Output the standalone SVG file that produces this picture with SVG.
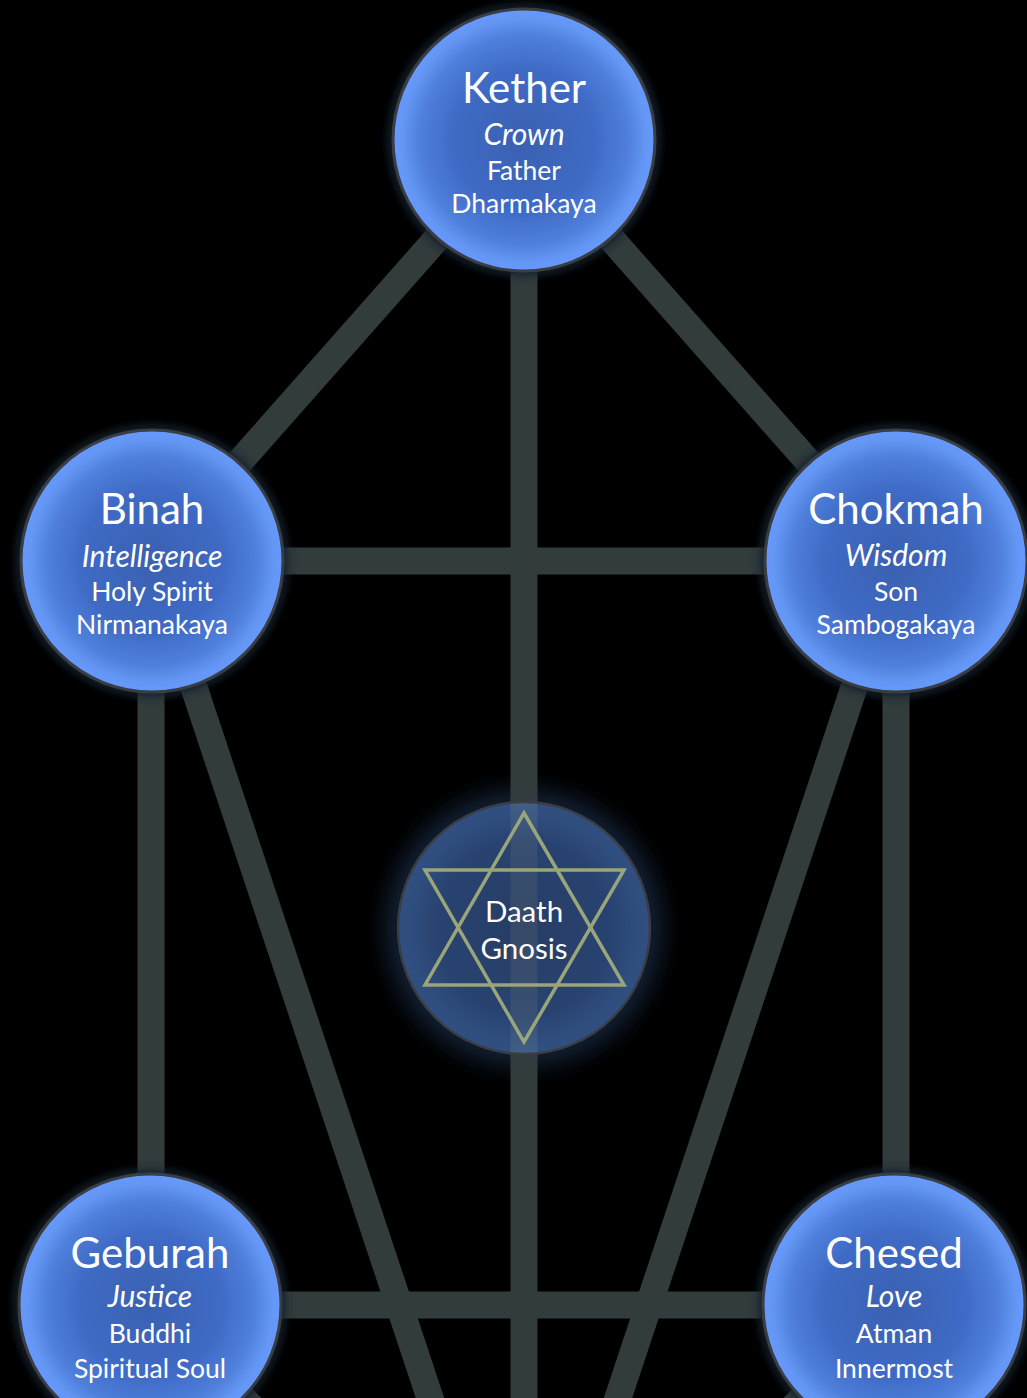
<svg xmlns="http://www.w3.org/2000/svg" width="1027" height="1398" viewBox="0 0 1027 1398">
<style>
.path{stroke:#333c3c;stroke-width:27;fill:none}
.orb{fill:url(#orbGrad);stroke:#3a3d42;stroke-width:3}
.glow{fill:#14202e;filter:url(#blur)}
text{fill:#ffffff;font-family:Lato,"Open Sans",sans-serif;text-anchor:middle}
.name{font-size:42px}
.attr{font-size:30px;font-style:italic}
.line{font-size:26.5px}
.dl{font-size:29.5px}
.star{fill:none;stroke:#9aa57a;stroke-width:3.5;stroke-linejoin:miter}
</style>
<defs>
<radialGradient id="orbGrad" cx="0.5" cy="0.5" r="0.5">
<stop offset="0" stop-color="#3a60b0"/>
<stop offset="0.55" stop-color="#3f6bc6"/>
<stop offset="0.8" stop-color="#4f80dc"/>
<stop offset="0.93" stop-color="#6496f4"/>
<stop offset="1" stop-color="#6699ff"/>
</radialGradient>
<radialGradient id="daathGrad" cx="0.5" cy="0.5" r="0.5">
<stop offset="0" stop-color="#3a5692" stop-opacity="0.5"/>
<stop offset="0.7" stop-color="#3e63aa" stop-opacity="0.5"/>
<stop offset="1" stop-color="#5082d2" stop-opacity="0.5"/>
</radialGradient>
<filter id="blur" x="-20%" y="-20%" width="140%" height="140%">
<feGaussianBlur stdDeviation="5"/>
</filter>
<filter id="blur2" x="-30%" y="-30%" width="160%" height="160%">
<feGaussianBlur stdDeviation="12"/>
</filter>
</defs>
<rect width="1027" height="1398" fill="#000000"/>
<g id="daath-glow">
<circle cx="524" cy="928" r="138" fill="#1c3050" opacity="0.7" filter="url(#blur2)"/>
</g>
<g id="connectors">
<line class="path" x1="524" y1="140" x2="152" y2="561"/>
<line class="path" x1="524" y1="140" x2="896" y2="561"/>
<line class="path" x1="524" y1="140" x2="524" y2="1398"/>
<line class="path" x1="152" y1="561" x2="896" y2="561"/>
<line class="path" x1="151" y1="561" x2="151" y2="1305"/>
<line class="path" x1="896" y1="561" x2="896" y2="1305"/>
<line class="path" x1="152" y1="561" x2="524" y2="1681"/>
<line class="path" x1="896" y1="561" x2="524" y2="1681"/>
<line class="path" x1="150" y1="1305" x2="894" y2="1305"/>
<line class="path" x1="150" y1="1305" x2="524" y2="1681"/>
<line class="path" x1="894" y1="1305" x2="524" y2="1681"/>
</g>
<g id="kether">
<circle class="glow" cx="524" cy="140" r="136"/>
<circle class="orb" cx="524" cy="140" r="131"/>
<text class="name" x="524" y="103">Kether</text>
<text class="attr" x="524" y="145">Crown</text>
<text class="line" x="524" y="180">Father</text>
<text class="line" x="524" y="213">Dharmakaya</text>
</g>
<g id="binah">
<circle class="glow" cx="152" cy="561" r="136"/>
<circle class="orb" cx="152" cy="561" r="131"/>
<text class="name" x="152" y="524">Binah</text>
<text class="attr" x="152" y="567">Intelligence</text>
<text class="line" x="152" y="601">Holy Spirit</text>
<text class="line" x="152" y="634">Nirmanakaya</text>
</g>
<g id="chokmah">
<circle class="glow" cx="896" cy="561" r="136"/>
<circle class="orb" cx="896" cy="561" r="131"/>
<text class="name" x="896" y="524">Chokmah</text>
<text class="attr" x="896" y="566">Wisdom</text>
<text class="line" x="896" y="601">Son</text>
<text class="line" x="896" y="634">Sambogakaya</text>
</g>
<g id="daath">
<circle cx="524" cy="928" r="126" fill="url(#daathGrad)" stroke="#3a3d42" stroke-width="2.5"/>
<polygon class="star" points="524,813 624,985 425,985"/>
<polygon class="star" points="425,870 624,870 524,1042"/>
<text class="dl" x="524" y="922">Daath</text>
<text class="dl" x="524" y="959">Gnosis</text>
</g>
<g id="geburah">
<circle class="glow" cx="150" cy="1305" r="136"/>
<circle class="orb" cx="150" cy="1305" r="131"/>
<text class="name" x="150" y="1268">Geburah</text>
<text class="attr" x="150" y="1307">Justice</text>
<text class="line" x="150" y="1343">Buddhi</text>
<text class="line" x="150" y="1378">Spiritual Soul</text>
</g>
<g id="chesed">
<circle class="glow" cx="894" cy="1305" r="136"/>
<circle class="orb" cx="894" cy="1305" r="131"/>
<text class="name" x="894" y="1268">Chesed</text>
<text class="attr" x="894" y="1307">Love</text>
<text class="line" x="894" y="1343">Atman</text>
<text class="line" x="894" y="1378">Innermost</text>
</g>
</svg>
